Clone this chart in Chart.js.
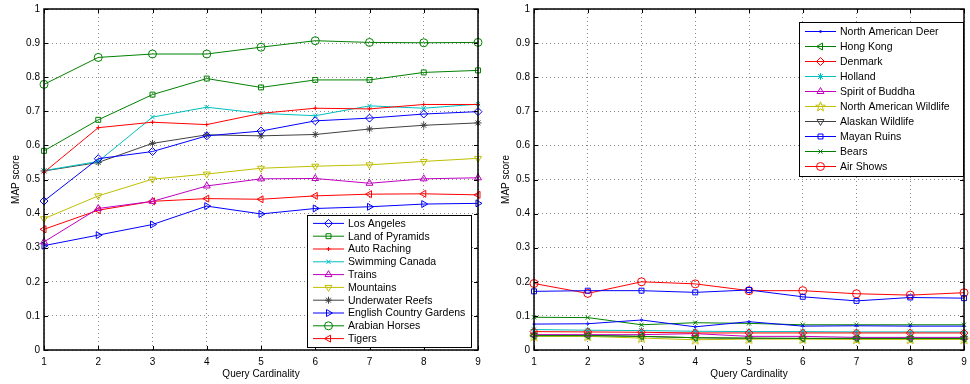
<!DOCTYPE html>
<html>
<head>
<meta charset="utf-8">
<script src="https://cdn.jsdelivr.net/npm/chart.js@4"></script>
<style>
  html, body { margin: 0; padding: 0; background: #fff; }
  #wrap { position: relative; width: 970px; height: 384px; }
  .box { position: absolute; top: 0; height: 384px; }
</style>
</head>
<body>
<div id="wrap">
  <div class="box" style="left:0;width:485px"><canvas id="leftChart" width="485" height="384"></canvas></div>
  <div class="box" style="left:490px;width:480px"><canvas id="rightChart" width="480" height="384"></canvas></div>
</div>
<script>
const cardinality = ['1', '2', '3', '4', '5', '6', '7', '8', '9'];

// left panel
const losAngeles = [0.437, 0.561, 0.582, 0.628, 0.642, 0.672, 0.680, 0.692, 0.699];
const landOfPyramids = [0.584, 0.675, 0.749, 0.796, 0.770, 0.792, 0.792, 0.814, 0.820];
const autoRaching = [0.521, 0.652, 0.668, 0.661, 0.694, 0.709, 0.707, 0.720, 0.720];
const swimmingCanada = [0.526, 0.553, 0.683, 0.712, 0.694, 0.687, 0.716, 0.709, 0.721];
const trains = [0.317, 0.415, 0.436, 0.481, 0.502, 0.503, 0.489, 0.502, 0.505];
const mountains = [0.385, 0.452, 0.501, 0.516, 0.533, 0.539, 0.543, 0.553, 0.562];
const underwaterReefs = [0.525, 0.550, 0.606, 0.631, 0.628, 0.632, 0.648, 0.659, 0.666];
const englishGardens = [0.306, 0.337, 0.368, 0.422, 0.399, 0.415, 0.420, 0.428, 0.430];
const arabianHorses = [0.779, 0.858, 0.868, 0.868, 0.888, 0.907, 0.902, 0.901, 0.902];
const tigers = [0.354, 0.410, 0.436, 0.444, 0.442, 0.452, 0.457, 0.458, 0.455];

// right panel
const northAmericanDeer = [0.076, 0.077, 0.088, 0.068, 0.083, 0.070, 0.071, 0.070, 0.070];
const hongKong = [0.042, 0.042, 0.040, 0.036, 0.035, 0.034, 0.034, 0.034, 0.034];
const denmark = [0.054, 0.053, 0.052, 0.050, 0.050, 0.050, 0.050, 0.050, 0.050];
const holland = [0.060, 0.058, 0.057, 0.055, 0.054, 0.054, 0.053, 0.053, 0.053];
const spiritOfBuddha = [0.045, 0.045, 0.045, 0.048, 0.040, 0.040, 0.037, 0.037, 0.037];
const northAmericanWildlife = [0.040, 0.040, 0.035, 0.030, 0.032, 0.032, 0.031, 0.031, 0.031];
const alaskanWildlife = [0.043, 0.043, 0.040, 0.036, 0.034, 0.034, 0.034, 0.034, 0.034];
const mayanRuins = [0.172, 0.174, 0.174, 0.169, 0.176, 0.156, 0.144, 0.154, 0.152];
const bears = [0.096, 0.095, 0.074, 0.080, 0.078, 0.074, 0.074, 0.074, 0.074];
const airShows = [0.195, 0.166, 0.200, 0.194, 0.174, 0.174, 0.165, 0.161, 0.168];

const BLUE = '#0000ff', GREEN = '#008000', RED = '#ff0000', CYAN = '#00bfbf';
const MAGENTA = '#bf00bf', YELLOW = '#bfbf00', GRAY = '#404040';
const FONT = '"Liberation Sans", Arial, sans-serif';

// pentagram marker for the wildlife series
const starMarker = (() => {
  const c = document.createElement('canvas');
  c.width = 11; c.height = 11;
  const g = c.getContext('2d');
  g.strokeStyle = YELLOW;
  g.lineWidth = 1;
  g.beginPath();
  for (let i = 0; i < 10; i++) {
    const r = i % 2 === 0 ? 5 : 2.1;
    const a = -Math.PI / 2 + i * Math.PI / 5;
    const px = 5.5 + r * Math.cos(a), py = 5.8 + r * Math.sin(a);
    i === 0 ? g.moveTo(px, py) : g.lineTo(px, py);
  }
  g.closePath();
  g.stroke();
  return c;
})();

const series = (label, data, color, pointStyle, rotation = 0, radius = 3.5) => ({
  label, data,
  borderColor: color,
  borderWidth: 1,
  pointStyle,
  rotation,
  pointRadius: radius,
  pointBorderColor: color,
  pointBackgroundColor: 'rgba(0,0,0,0)',
  pointBorderWidth: 1,
  tension: 0,
});

const leftSets = [
  series('Los Angeles', losAngeles, BLUE, 'rectRot', 0, 4),
  series('Land of Pyramids', landOfPyramids, GREEN, 'rect', 0, 3.5),
  series('Auto Raching', autoRaching, RED, 'cross', 0, 2),
  series('Swimming Canada', swimmingCanada, CYAN, 'crossRot', 0, 3),
  series('Trains', trains, MAGENTA, 'triangle', 0, 4),
  series('Mountains', mountains, YELLOW, 'triangle', 180, 4),
  series('Underwater Reefs', underwaterReefs, GRAY, 'star', 0, 3.5),
  series('English Country Gardens', englishGardens, BLUE, 'triangle', 90, 4),
  series('Arabian Horses', arabianHorses, GREEN, 'circle', 0, 4),
  series('Tigers', tigers, RED, 'triangle', 270, 4),
];

const rightSets = [
  series('North American Deer', northAmericanDeer, BLUE, 'circle', 0, 1),
  series('Hong Kong', hongKong, GREEN, 'triangle', 270, 4),
  series('Denmark', denmark, RED, 'rectRot', 0, 4),
  series('Holland', holland, CYAN, 'star', 0, 3.5),
  series('Spirit of Buddha', spiritOfBuddha, MAGENTA, 'triangle', 0, 4),
  series('North American Wildlife', northAmericanWildlife, YELLOW, starMarker, 0, 5),
  series('Alaskan Wildlife', alaskanWildlife, GRAY, 'triangle', 180, 4),
  series('Mayan Ruins', mayanRuins, BLUE, 'rect', 0, 3.5),
  series('Bears', bears, GREEN, 'crossRot', 0, 3),
  series('Air Shows', airShows, RED, 'circle', 0, 4),
];

// axes box with inward ticks, like the original figure
const boxPlugin = {
  id: 'matBox',
  afterDatasetsDraw(chart) {
    const { ctx, chartArea: a, scales } = chart;
    ctx.save();
    ctx.strokeStyle = '#000';
    ctx.lineWidth = 1;
    ctx.beginPath();
    scales.x.ticks.forEach((t, i) => {
      const px = Math.round(scales.x.getPixelForTick(i)) + 0.5;
      ctx.moveTo(px, a.bottom); ctx.lineTo(px, a.bottom - 4);
      ctx.moveTo(px, a.top); ctx.lineTo(px, a.top + 4);
    });
    scales.y.ticks.forEach((t, i) => {
      const py = Math.round(scales.y.getPixelForTick(i)) + 0.5;
      ctx.moveTo(a.left, py); ctx.lineTo(a.left + 4, py);
      ctx.moveTo(a.right, py); ctx.lineTo(a.right - 4, py);
    });
    ctx.stroke();
    ctx.lineWidth = 1.5;
    ctx.strokeRect(a.left, a.top, a.right - a.left, a.bottom - a.top);
    ctx.restore();
  },
};

// legend drawn inside the axes
const insideLegend = {
  id: 'insideLegend',
  afterDraw(chart, args, opts) {
    const { ctx, chartArea: a } = chart;
    const sets = chart.data.datasets;
    const w = opts.width, h = opts.rowHeight * sets.length + opts.pad * 2;
    const x0 = a.right - opts.offsetX - w;
    const y0 = opts.anchor === 'bottom' ? a.bottom - opts.offsetY - h : a.top + opts.offsetY;
    ctx.save();
    ctx.fillStyle = '#fff';
    ctx.fillRect(x0, y0, w, h);
    ctx.strokeStyle = '#000';
    ctx.lineWidth = 1;
    ctx.strokeRect(Math.round(x0) + 0.5, Math.round(y0) + 0.5, Math.round(w), Math.round(h));
    ctx.font = '10.5px ' + FONT;
    ctx.textBaseline = 'middle';
    sets.forEach((ds, i) => {
      const y = y0 + opts.pad + opts.rowHeight * (i + 0.5);
      const lx = x0 + 6;
      ctx.strokeStyle = ds.borderColor;
      ctx.lineWidth = 1;
      ctx.beginPath();
      ctx.moveTo(lx, y); ctx.lineTo(lx + 31, y);
      ctx.stroke();
      ctx.strokeStyle = ds.borderColor;
      ctx.fillStyle = 'rgba(0,0,0,0)';
      Chart.helpers.drawPoint(ctx, {
        pointStyle: ds.pointStyle, rotation: ds.rotation,
        radius: ds.pointRadius, borderWidth: 1,
      }, lx + 15.5, y);
      ctx.fillStyle = '#000';
      ctx.fillText(ds.label, lx + 35, y + 0.5);
    });
    ctx.restore();
  },
};

const makeOptions = (padRight, legend) => ({
  responsive: false,
  animation: false,
  layout: { padding: { top: 9, right: padRight, left: 0, bottom: 0 } },
  plugins: {
    legend: { display: false },
    tooltip: { enabled: false },
    insideLegend: legend,
  },
  scales: {
    x: {
      offset: false,
      grid: { color: '#8a8a8a', drawTicks: false, lineWidth: 1 },
      border: { display: false, dash: [1, 3] },
      ticks: { color: '#000', font: { size: 10, family: FONT }, padding: 6, maxRotation: 0 },
      title: { display: true, text: 'Query Cardinality', color: '#000', font: { size: 10, family: FONT }, padding: { top: 0, bottom: 4 } },
      afterFit(s) { s.height = 34; s.paddingLeft = 0; s.paddingRight = 0; },
    },
    y: {
      min: 0, max: 1,
      grid: { color: '#8a8a8a', drawTicks: false, lineWidth: 1 },
      border: { display: false, dash: [1, 3] },
      ticks: {
        stepSize: 0.1, color: '#000', font: { size: 10, family: FONT }, padding: 4,
        callback: (v) => String(Number(v.toFixed(1))),
      },
      title: { display: true, text: 'MAP score', color: '#000', font: { size: 10, family: FONT }, padding: { top: 10, bottom: 0 } },
      afterFit(s) { s.width = 44; s.paddingTop = 0; s.paddingBottom = 0; },
    },
  },
});

new Chart(document.getElementById('leftChart'), {
  type: 'line',
  data: { labels: cardinality, datasets: leftSets },
  options: makeOptions(7, { anchor: 'bottom', width: 164, rowHeight: 12.8, pad: 2, offsetX: 7, offsetY: 3 }),
  plugins: [boxPlugin, insideLegend],
});

new Chart(document.getElementById('rightChart'), {
  type: 'line',
  data: { labels: cardinality, datasets: rightSets },
  options: makeOptions(1, { anchor: 'top', width: 164, rowHeight: 15, pad: 2, offsetX: 1, offsetY: 13 }),
  plugins: [boxPlugin, insideLegend],
});
</script>
</body>
</html>
